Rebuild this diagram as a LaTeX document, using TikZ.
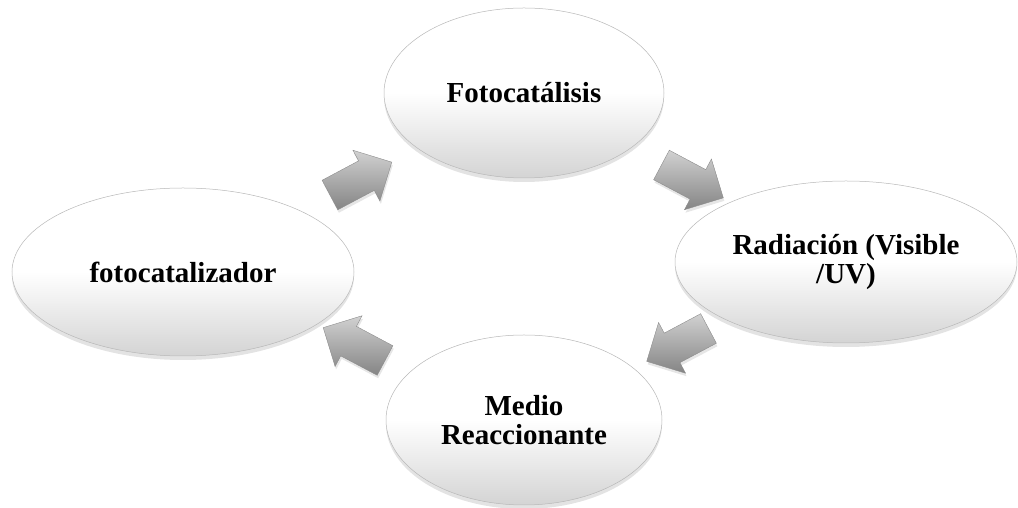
\documentclass[tikz,border=0pt]{standalone}
\usepackage{fontspec}
\setmainfont{Liberation Serif}
\usepackage{tikz}
\usetikzlibrary{calc,positioning,shapes.geometric,shapes.arrows,shadows}
\tikzset{
  etapa/.style={ellipse,draw=black!28,line width=0.5pt,top color=white,bottom color=black!17,middle color=white,
    inner sep=0pt,align=center,font=\fontsize{29}{29}\selectfont\bfseries,
    drop shadow={opacity=0.22,shadow xshift=0pt,shadow yshift=-4pt}},
  flecha/.style={single arrow,draw=black!45,line width=0.4pt,top color=black!18,bottom color=black!48,
    minimum height=70pt,inner xsep=0pt,inner ysep=16.5pt,single arrow head extend=12pt,
    drop shadow={opacity=0.2,shadow xshift=1pt,shadow yshift=-3pt}},
}
\begin{document}
\begin{tikzpicture}[x=1pt,y=1pt]
  \useasboundingbox (0,0) rectangle (1018,508);
  \node[etapa,minimum width=280pt,minimum height=170pt] (foto) at (524,415) {Fotocatálisis};
  \node[etapa,minimum width=342pt,minimum height=162pt] (rad) at (846,246) {Radiación (Visible\\/UV)};
  \node[etapa,minimum width=342pt,minimum height=168pt] (cat) at (183,236) {fotocatalizador};
  \node[etapa,minimum width=276pt,minimum height=170pt] (medio) at (524,88) {Medio\\Reaccionante};
  \node[flecha,rotate=28] (f1) at ($(cat)!0.5!(foto)$) {};
  \node[flecha,rotate=-28] (f2) at ($(foto)!0.5!(rad)$) {};
  \node[flecha,rotate=208] (f3) at ($(rad)!0.5!(medio)$) {};
  \node[flecha,rotate=152] (f4) at ($(medio)!0.5!(cat)+(8,-2)$) {};
\end{tikzpicture}
\end{document}
